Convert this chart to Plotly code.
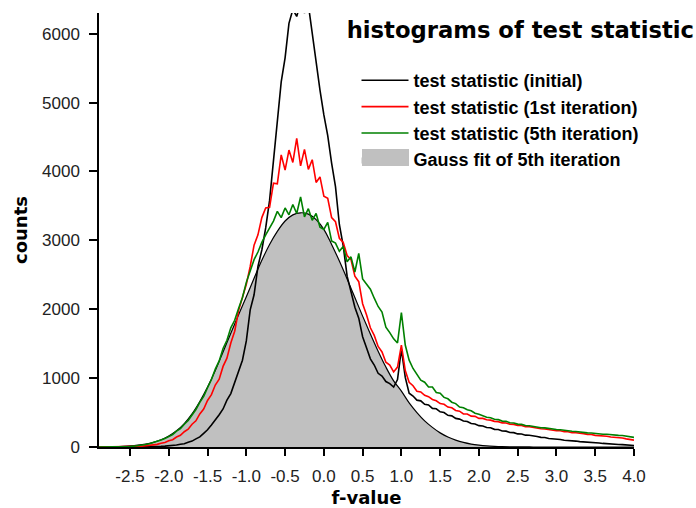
import numpy as np
import plotly.graph_objects as go

# ---------------- data ----------------
x_hist = np.round(np.arange(-2.90, 4.0001, 0.05), 2)

initial = [
    0, 0, 0, 0, 0, 0, 0, 0, 1, 1, 2, 2, 3, 5, 6, 8, 10, 12, 15,
    22, 28, 41, 48, 70, 86, 118, 146, 198, 250, 318, 388, 468, 552, 680, 775, 935, 1080, 1260, 1540,
    1990, 2210, 2620, 2860, 3180, 3580, 4170, 4680, 5300, 5650, 6150, 6350, 6250, 6450, 6300, 6420, 5980, 5560, 5180, 4820,
    4520, 4120, 3780, 3230, 2920, 2480, 2270, 2030, 1870, 1600, 1440, 1280, 1190, 1070, 1030, 950, 920, 870, 980, 1420,
    1010, 780, 740, 680, 670, 620, 610, 560, 555, 510, 500, 460, 452, 415, 405, 378, 370, 340, 335, 310,
    305, 284, 280, 256, 254, 232, 230, 210, 208, 190, 188, 172, 170, 156, 152, 140, 138, 124, 122, 110,
    110, 98, 96, 88, 86, 78, 76, 68, 67, 60, 59, 52, 51, 45, 43, 37, 35, 29, 27, 22,
]

iter1 = [
    0, 0, 0, 0, 0, 1, 2, 3, 4, 6, 9, 11, 17, 21, 31, 38, 55, 64, 90,
    105, 145, 170, 222, 258, 330, 380, 480, 550, 675, 760, 900, 985, 1170, 1290, 1510, 1680, 1980, 2180, 2360,
    2620, 2930, 3080, 3330, 3470, 3480, 3830, 3820, 4240, 4020, 4310, 4130, 4480, 4080, 4320, 4030, 4170, 3840, 3920, 3640,
    3610, 3330, 3270, 3030, 2970, 2780, 2720, 2480, 2400, 2080, 1920, 1730, 1620, 1460, 1380, 1230, 1190, 1090, 1160, 1480,
    1110, 940, 890, 810, 800, 750, 730, 690, 670, 630, 620, 580, 570, 530, 520, 480, 478, 448, 445, 415,
    415, 396, 390, 372, 368, 350, 348, 330, 328, 314, 312, 296, 294, 282, 278, 264, 262, 250, 248, 236,
    236, 222, 222, 208, 207, 195, 194, 183, 182, 169, 168, 157, 157, 146, 144, 133, 130, 118, 114, 100,
]

iter5 = [
    0, 0, 0, 0, 1, 2, 3, 5, 8, 12, 18, 25, 37, 47, 63, 78, 102, 122, 152,
    182, 230, 265, 330, 385, 465, 545, 648, 735, 860, 980, 1130, 1250, 1430, 1550, 1730, 1840, 2010, 2170, 2390,
    2540, 2720, 2830, 2970, 3080, 3170, 3280, 3420, 3330, 3470, 3370, 3520, 3390, 3630, 3340, 3460, 3290, 3390, 3190, 3160,
    3260, 2990, 2960, 2840, 2910, 2690, 2760, 2540, 2810, 2440, 2360, 2290, 2160, 2040, 1960, 1740, 1660, 1570, 1510, 1950,
    1480, 1260, 1140, 1060, 970, 940, 870, 870, 790, 780, 720, 700, 650, 630, 580, 570, 540, 525, 490, 475,
    455, 432, 425, 402, 398, 376, 372, 352, 348, 332, 328, 312, 308, 296, 292, 280, 277, 266, 264, 253,
    250, 240, 238, 228, 226, 216, 214, 205, 203, 194, 192, 186, 184, 177, 176, 169, 168, 160, 156, 140,
]

x_gauss = np.round(np.arange(-2.9, 4.0001, 0.1), 1)
gauss = [
    1, 3, 5, 9, 16, 27, 43, 68, 105, 160,
    235, 340, 480, 660, 870, 1110, 1380, 1650, 1920, 2180,
    2450, 2710, 2940, 3130, 3280, 3370, 3400, 3380, 3300, 3160,
    2940, 2700, 2440, 2170, 1900, 1640, 1390, 1160, 960, 810,
    640, 500, 380, 285, 205, 145, 100, 66, 42, 26,
    15, 9, 5, 3, 2, 1, 0, 0, 0, 0,
    0, 0, 0, 0, 0, 0, 0, 0, 0, 0,
]

x_ticks = [-2.5, -2.0, -1.5, -1.0, -0.5, 0.0, 0.5, 1.0, 1.5, 2.0, 2.5, 3.0, 3.5, 4.0]
x_tick_text = ["-2.5", "-2.0", "-1.5", "-1.0", "-0.5", "0.0", "0.5", "1.0",
               "1.5", "2.0", "2.5", "3.0", "3.5", "4.0"]
y_ticks = [0, 1000, 2000, 3000, 4000, 5000, 6000]

GRAY = "#c0c0c0"

# ---------------- figure ----------------
fig = go.Figure()

fig.add_trace(go.Scatter(
    x=x_gauss, y=gauss, mode="lines", fill="tozeroy",
    fillcolor=GRAY, line=dict(width=0, color=GRAY, shape="spline"),
    name="Gauss fit of 5th iteration", legendrank=4,
))
fig.add_trace(go.Scatter(
    x=x_gauss, y=gauss, mode="lines",
    line=dict(width=1.2, color="black", shape="spline"),
    showlegend=False, hoverinfo="skip",
))
fig.add_trace(go.Scatter(
    x=x_hist, y=initial, mode="lines",
    line=dict(width=1.6, color="black"),
    name="test statistic (initial)", legendrank=1,
))
fig.add_trace(go.Scatter(
    x=x_hist, y=iter1, mode="lines",
    line=dict(width=1.6, color="#ff0000"),
    name="test statistic (1st iteration)", legendrank=2,
))
fig.add_trace(go.Scatter(
    x=x_hist, y=iter5, mode="lines",
    line=dict(width=1.6, color="#008000"),
    name="test statistic (5th iteration)", legendrank=3,
))

tick_font = dict(family="Liberation Sans, Arial, sans-serif", size=17, color="#222222")
title_font = dict(family="DejaVu Sans, sans-serif", size=18, color="black", weight="bold")

W, H = 696, 508
L, R, T, B = 99, 62, 13, 61
pw, ph = W - L - R, H - T - B


def px2paper(px, py):
    return (px - L) / pw, 1 - (py - T) / ph


# taller swatch for the fill entry of the legend (sits behind the native swatch)
sx0, sy0 = px2paper(362, 149)
sx1, sy1 = px2paper(409, 166)

fig.update_layout(
    width=W, height=H,
    margin=dict(l=L, r=R, t=T, b=B, pad=0, autoexpand=False),
    paper_bgcolor="white", plot_bgcolor="white",
    title=dict(
        text="histograms of test statistic",
        font=dict(family="DejaVu Sans, sans-serif", size=22.7, color="black", weight="bold"),
        x=694 / W, xanchor="right", xref="container",
        y=1 - 30 / H, yanchor="middle", yref="container",
    ),
    legend=dict(
        x=px2paper(356.5, 0)[0], y=px2paper(0, 62)[1], xanchor="left", yanchor="top",
        bgcolor="rgba(0,0,0,0)", borderwidth=0,
        font=dict(family="Liberation Sans, Arial, sans-serif", size=18, color="black", weight="bold"),
        itemwidth=47, tracegroupgap=0,
    ),
    shapes=[dict(type="rect", xref="paper", yref="paper",
                 x0=sx0, x1=sx1, y0=sy1, y1=sy0,
                 fillcolor=GRAY, line=dict(width=0), layer="above")],
    showlegend=True,
)

fig.update_xaxes(
    range=[-2.9, 4.0], tickvals=x_ticks, ticktext=x_tick_text,
    showline=True, linecolor="black", linewidth=1.5,
    ticks="outside", ticklen=7, tickwidth=1.5, tickcolor="black",
    showgrid=False, zeroline=False, mirror=False, automargin=False,
    tickfont=tick_font, ticklabelstandoff=6,
    title=dict(text="f-value", font=title_font, standoff=14),
)
fig.update_yaxes(
    range=[0, 6300], tickvals=y_ticks,
    showline=True, linecolor="black", linewidth=1.5,
    ticks="outside", ticklen=8, tickwidth=1.5, tickcolor="black",
    showgrid=False, zeroline=False, mirror=False, automargin=False,
    tickfont=tick_font, ticklabelstandoff=6,
    title=dict(text="counts", font=title_font, standoff=10),
)

fig.write_html("out.html")
